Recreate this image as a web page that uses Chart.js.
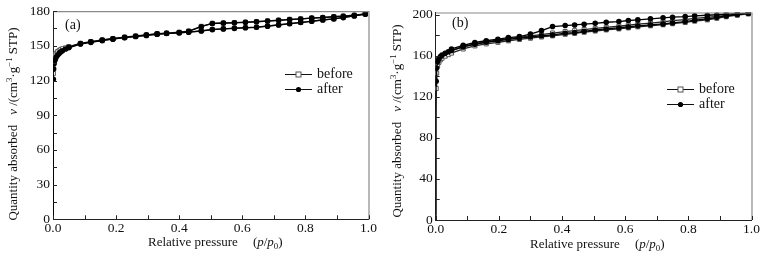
<!DOCTYPE html>
<html><head><meta charset="utf-8">
<script src="https://cdn.jsdelivr.net/npm/chart.js@4"></script>
<style>
html,body{margin:0;padding:0;background:#fff;width:769px;height:257px;overflow:hidden}
canvas{position:absolute;top:0}
#ca{left:0}#cb{left:385px}
</style></head>
<body>
<canvas id="ca" width="384" height="257"></canvas>
<canvas id="cb" width="384" height="257"></canvas>
<script>
// ---------- Panel (a) ----------
const pAdsA = [0.00005, 0.0002, 0.0005, 0.001, 0.002, 0.004, 0.007, 0.01, 0.015, 0.02, 0.025, 0.03, 0.04, 0.05, 0.087, 0.12, 0.156, 0.19, 0.227, 0.262, 0.296, 0.33, 0.36, 0.40, 0.43, 0.47, 0.505, 0.54, 0.575, 0.61, 0.645, 0.68, 0.715, 0.75, 0.785, 0.82, 0.855, 0.89, 0.92, 0.955, 0.99];
const beforeAdsA = [3, 50, 100, 126, 134, 139, 142, 143.5, 145, 146, 146.8, 147.4, 148.2, 149, 151.8, 153.2, 154.7, 155.9, 157.1, 158.1, 159.1, 160.1, 160.7, 161.3, 161.9, 162.9, 164.1, 164.7, 165.2, 165.7, 166.1, 167.1, 168.1, 169.2, 170.2, 171.3, 172.4, 173.3, 174.5, 175.9, 177.5];
const afterAdsA = [2, 40, 92, 121, 130, 135, 138, 140, 142, 143.5, 144.8, 145.7, 147.2, 148.3, 151.5, 153, 154.5, 155.7, 157, 158, 159, 160, 160.6, 161.2, 161.8, 162.8, 164, 164.6, 165.1, 165.6, 166, 167, 168, 169.1, 170.1, 171.2, 172.3, 173.2, 174.4, 175.8, 177.4];
const pDesA = [0.99, 0.955, 0.92, 0.89, 0.855, 0.82, 0.785, 0.75, 0.715, 0.68, 0.645, 0.61, 0.575, 0.54, 0.505, 0.47, 0.43, 0.40, 0.36, 0.33, 0.296, 0.262, 0.227, 0.19, 0.156, 0.12, 0.087, 0.05];
const beforeDesA = [177.5, 176.5, 175.7, 175.2, 174.5, 174, 173.3, 172.8, 172.1, 171.5, 170.9, 170.4, 170, 169.7, 169.4, 166.8, 162.7, 161.7, 161, 160.5, 159.5, 158.5, 157.5, 156.3, 155.1, 153.6, 152.1, 149.2];
const afterDesA = [177.4, 176.4, 175.6, 175.1, 174.4, 173.9, 173.2, 172.7, 172, 171.4, 170.8, 170.3, 169.9, 169.6, 169.3, 166.5, 162.5, 161.5, 160.8, 160.3, 159.3, 158.3, 157.3, 156.1, 154.9, 153.4, 151.9, 148.8];

// ---------- Panel (b) ----------
const pAdsB = [0.00005, 0.0003, 0.0008, 0.0015, 0.003, 0.006, 0.01, 0.015, 0.02, 0.03, 0.04, 0.05, 0.087, 0.124, 0.16, 0.197, 0.23, 0.265, 0.30, 0.335, 0.37, 0.41, 0.44, 0.47, 0.505, 0.54, 0.58, 0.61, 0.64, 0.68, 0.72, 0.75, 0.79, 0.82, 0.86, 0.89, 0.92, 0.955, 0.99];
const beforeAdsB = [4, 50, 100, 128, 143, 150, 153.5, 156, 157.5, 159.5, 161, 162.5, 166.5, 169.5, 171.5, 173, 174.5, 175.8, 177, 178.2, 179.3, 180.8, 181.7, 182.8, 184, 185.1, 186.1, 187.1, 188.1, 189.1, 190.1, 191.1, 192.3, 193.6, 194.9, 196.4, 197.9, 199.4, 200.8];
const afterAdsB = [5, 60, 110, 135, 148, 154, 157, 159, 160.5, 162.3, 163.8, 165, 168.5, 171, 173, 174.5, 175.8, 177, 178.3, 179.3, 180.2, 181.8, 182.5, 183.7, 185, 186, 187, 188, 189, 190, 190.9, 191.9, 193.2, 194.5, 195.8, 197.3, 198.7, 200, 201.3];
const pDesB = [0.99, 0.955, 0.92, 0.89, 0.86, 0.82, 0.79, 0.75, 0.72, 0.68, 0.64, 0.61, 0.58, 0.54, 0.505, 0.47, 0.44, 0.41, 0.37, 0.335, 0.30, 0.265, 0.23, 0.197, 0.16, 0.124, 0.087, 0.05];
const beforeDesB = [200.8, 200, 199.2, 198.3, 197.3, 196.2, 195.1, 194, 192.8, 191.7, 190.6, 189.6, 188.6, 187.5, 186.5, 185.4, 184.3, 183.4, 182, 180.5, 179.2, 177.8, 176.6, 175, 173.4, 171.5, 168.8, 165];
const afterDesB = [201.3, 200.9, 200.5, 199.8, 199.3, 198.8, 198, 197.4, 196.8, 195.8, 194.8, 194.2, 193.2, 192.5, 191.5, 190.6, 189.9, 189.3, 188.3, 184.4, 181, 178.5, 177.5, 176, 174.5, 172.8, 170, 166.5];

// ---------- Ticks ----------
const xTicks = [0, 0.2, 0.4, 0.6, 0.8, 1.0];
const xMinorTicks = [0.1, 0.3, 0.5, 0.7, 0.9];
const yTicksA = [0, 30, 60, 90, 120, 150, 180];
const yMinorA = [15, 45, 75, 105, 135, 165];
const yTicksB = [0, 40, 80, 120, 160, 200];
const yMinorB = [20, 60, 100, 140, 180];

const FONT = "'Liberation Serif','Times New Roman',serif";
const TITLE_SIZE = 13;

function pts(px, py) { return px.map((x, i) => ({ x: x, y: py[i] })); }
function loop(pa, ya, pd, yd) { return pts(pa, ya).concat(pts(pd, yd)); }

function fontFor(s) {
  const sz = (s === 'sup' || s === 'sub') ? (TITLE_SIZE * 0.68).toFixed(1) : TITLE_SIZE;
  return (s === 'i' ? 'italic ' : '') + sz + 'px ' + FONT;
}
function drawSegments(ctx, segs, x, y) {
  let cx = x;
  for (const [t, s] of segs) {
    if (typeof t === 'number') { cx += t; continue; }
    ctx.font = fontFor(s);
    let dy = 0;
    if (s === 'sup') dy = -4.5;
    if (s === 'sub') dy = 3.5;
    ctx.fillText(t, cx, y + dy);
    cx += ctx.measureText(t).width;
  }
  return cx - x;
}
function segWidth(ctx, segs) {
  let w = 0;
  for (const [t, s] of segs) {
    if (typeof t === 'number') { w += t; continue; }
    ctx.font = fontFor(s);
    w += ctx.measureText(t).width;
  }
  return w;
}

const yTitleSegs = [["Quantity absorbed", 'n'], [10], ["v", 'i'], [" /(cm", 'n'], ["3", 'sup'], ["·g", 'n'], ["−1", 'sup'], [" STP)", 'n']];
const xTitleSegs = [["Relative pressure", 'n'], [15], ["(", 'n'], ["p", 'i'], ["/", 'n'], ["p", 'i'], ["0", 'sub'], [")", 'n']];

function makeDecor(g) {
  return {
    id: 'decor',
    afterDraw(chart) {
      const ctx = chart.ctx, a = chart.chartArea;
      const xs = chart.scales.x, ys = chart.scales.y;
      ctx.save();
      // frame top & right
      ctx.strokeStyle = '#8a8a8a'; ctx.lineWidth = 1.2;
      ctx.beginPath();
      ctx.moveTo(a.left, a.top + 0.5); ctx.lineTo(a.right + 0.5, a.top + 0.5); ctx.lineTo(a.right + 0.5, a.bottom);
      ctx.stroke();
      // inward ticks
      ctx.strokeStyle = '#222'; ctx.lineWidth = 1;
      ctx.beginPath();
      xTicks.concat(xMinorTicks).forEach(v => {
        const px = Math.round(xs.getPixelForValue(v)) + 0.5;
        ctx.moveTo(px, a.bottom); ctx.lineTo(px, a.bottom - 4);
      });
      g.yMajor.concat(g.yMinor).forEach(v => {
        const py = Math.round(ys.getPixelForValue(v)) + 0.5;
        ctx.moveTo(a.left, py); ctx.lineTo(a.left + 4, py);
      });
      ctx.stroke();
      ctx.fillStyle = '#111';
      ctx.textBaseline = 'middle'; ctx.textAlign = 'left';
      // panel label
      ctx.font = '14px ' + FONT;
      ctx.fillText(g.panel, g.panelX, g.panelY);
      // legend
      const items = [
        { label: 'before', y: g.legY, style: 'rect' },
        { label: 'after', y: g.legY + 15, style: 'circle' }
      ];
      items.forEach(it => {
        ctx.strokeStyle = '#111'; ctx.lineWidth = 1;
        ctx.beginPath(); ctx.moveTo(g.legX, it.y + 0.5); ctx.lineTo(g.legX + 27, it.y + 0.5); ctx.stroke();
        const mx = g.legX + 13.5;
        if (it.style === 'rect') {
          ctx.fillStyle = '#fff'; ctx.strokeStyle = '#555';
          ctx.fillRect(mx - 2.5, it.y - 2, 5, 5); ctx.strokeRect(mx - 2.5, it.y - 2, 5, 5);
        } else {
          ctx.fillStyle = '#000';
          ctx.beginPath(); ctx.arc(mx, it.y + 0.5, 2.6, 0, Math.PI * 2); ctx.fill();
        }
        ctx.fillStyle = '#111';
        ctx.font = '14px ' + FONT;
        ctx.fillText(it.label, g.legX + 32, it.y);
      });
      // x title
      drawSegments(ctx, xTitleSegs, g.xTitleX, g.xTitleY);
      // y title
      ctx.translate(g.yTitleX, g.yTitleCY);
      ctx.rotate(-Math.PI / 2);
      const w = segWidth(ctx, yTitleSegs);
      drawSegments(ctx, yTitleSegs, -w / 2, 0);
      ctx.restore();
    }
  };
}

// hide markers along the near-vertical micropore rise (they merge into the line there)
const radiusFor = r => c => (c.raw && c.raw.y < 118 ? 0 : r);

function makeChart(id, before, after, yMax, g) {
  return new Chart(document.getElementById(id), {
    type: 'scatter',
    data: {
      datasets: [
        { label: 'before', data: before, showLine: true, borderColor: '#222', borderWidth: 1.3,
          pointStyle: 'rect', pointRadius: radiusFor(2.9), pointBackgroundColor: '#fff', pointBorderColor: '#555', pointBorderWidth: 1, order: 2 },
        { label: 'after', data: after, showLine: true, borderColor: '#000', borderWidth: 1.3,
          pointStyle: 'circle', pointRadius: radiusFor(2.8), pointBackgroundColor: '#000', pointBorderColor: '#000', pointBorderWidth: 0, order: 1 }
      ]
    },
    options: {
      responsive: false, animation: false, events: [],
      layout: { padding: { left: 0, right: g.padRight, top: g.padTop, bottom: 0 } },
      plugins: { legend: { display: false }, tooltip: { enabled: false } },
      scales: {
        x: {
          type: 'linear', min: 0, max: 1,
          afterBuildTicks: s => { s.ticks = xTicks.map(v => ({ value: v })); },
          afterFit: s => { s.height = g.xAxisH; },
          grid: { display: false, drawTicks: false },
          border: { display: true, color: '#222', width: 1 },
          ticks: { padding: 1, color: '#111', maxRotation: 0, autoSkip: false,
                   font: { family: FONT, size: 13.5 }, callback: v => Number(v).toFixed(1) }
        },
        y: {
          type: 'linear', min: 0, max: yMax,
          afterBuildTicks: s => { s.ticks = g.yMajor.map(v => ({ value: v })); },
          afterFit: s => { s.width = g.yAxisW; },
          grid: { display: false, drawTicks: false },
          border: { display: true, color: '#222', width: 1 },
          ticks: { padding: 3, color: '#111', autoSkip: false,
                   font: { family: FONT, size: 13.5 }, callback: v => String(v) }
        }
      }
    },
    plugins: [makeDecor(g)]
  });
}

makeChart('ca', loop(pAdsA, beforeAdsA, pDesA, beforeDesA), loop(pAdsA, afterAdsA, pDesA, afterDesA), 180, {
  yMajor: yTicksA, yMinor: yMinorA, yAxisW: 53, padRight: 15.5, padTop: 10.5, xAxisH: 37.7,
  panel: '(a)', panelX: 65, panelY: 25, legX: 285, legY: 74,
  xTitleX: 148, xTitleY: 243, yTitleX: 14, yTitleCY: 124
});
makeChart('cb', loop(pAdsB, beforeAdsB, pDesB, beforeDesB), loop(pAdsB, afterAdsB, pDesB, afterDesB), 202, {
  yMajor: yTicksB, yMinor: yMinorB, yAxisW: 50.7, padRight: 17.5, padTop: 12.5, xAxisH: 37,
  panel: '(b)', panelX: 67, panelY: 23, legX: 282, legY: 89,
  xTitleX: 145, xTitleY: 245, yTitleX: 13, yTitleCY: 121
});
</script>
</body></html>
